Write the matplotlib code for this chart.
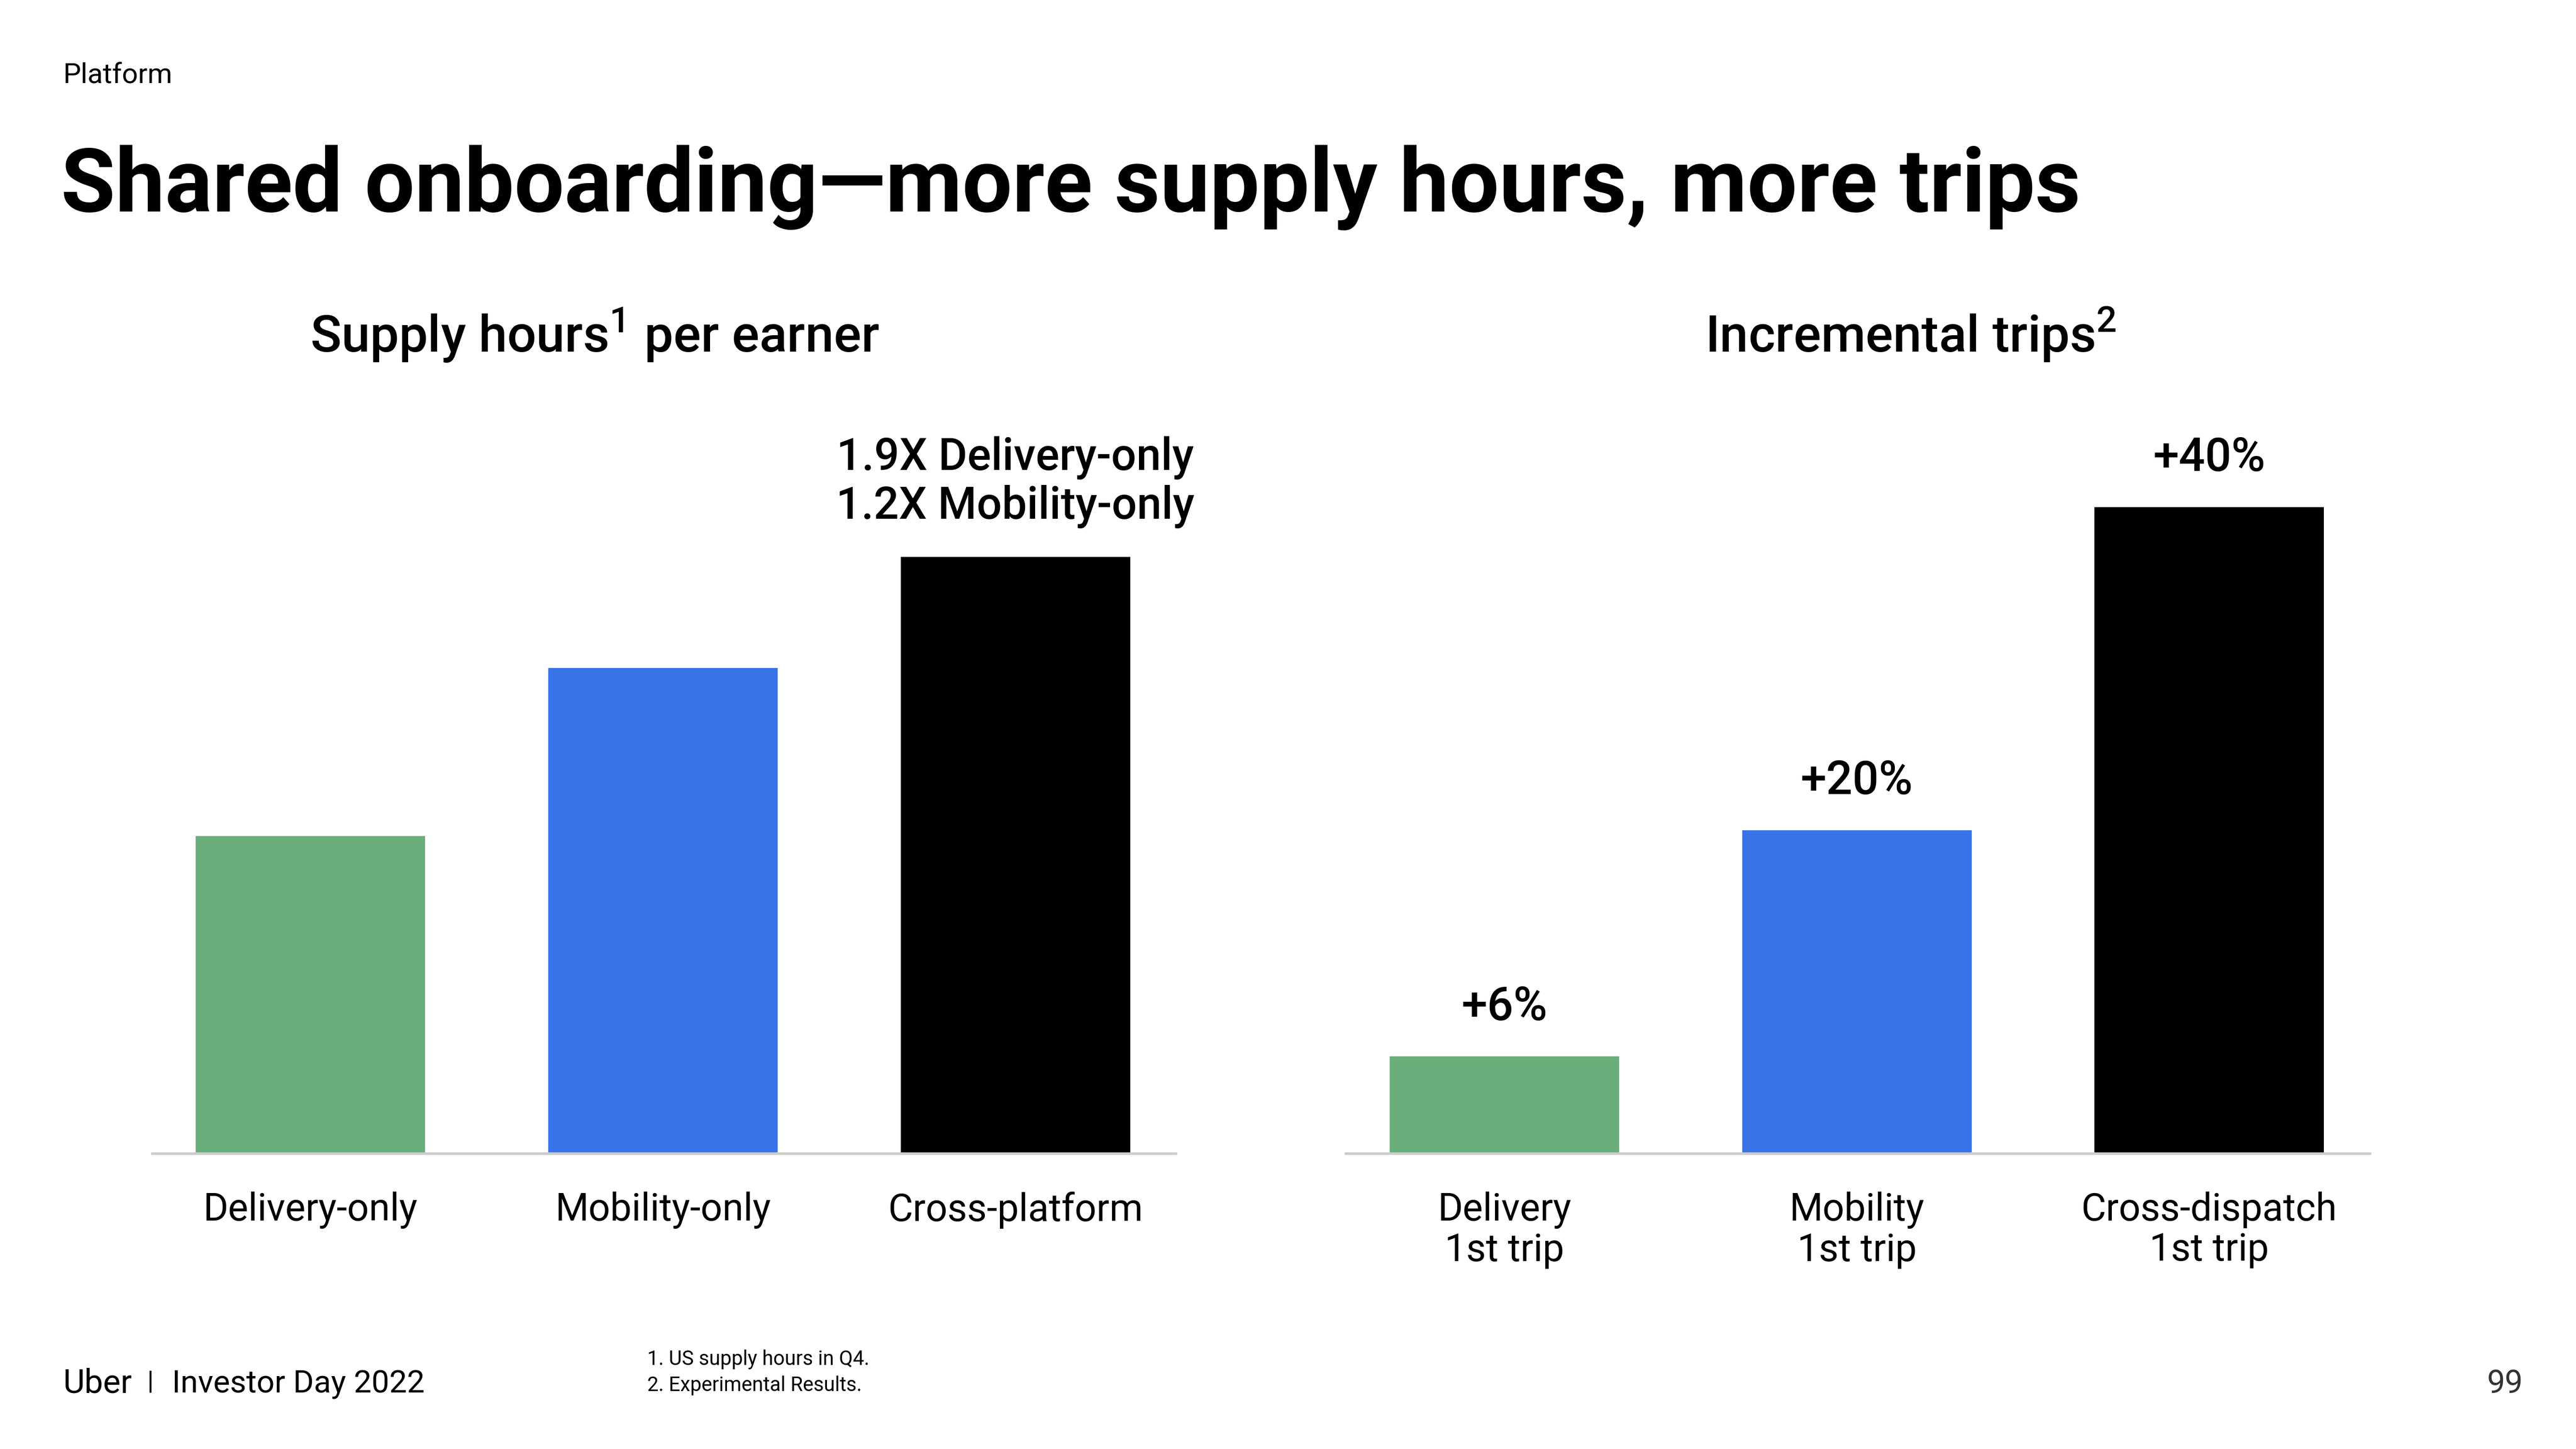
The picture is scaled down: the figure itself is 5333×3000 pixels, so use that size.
import numpy as np
import matplotlib
matplotlib.use("Agg")
import matplotlib.pyplot as plt

plt.rcParams['font.family'] = ['Roboto', 'DejaVu Sans']
plt.rcParams['mathtext.fontset'] = 'custom'
plt.rcParams['mathtext.rm'] = 'Roboto'

# Data
supply_cats = ["Delivery-only", "Mobility-only", "Cross-platform"]
supply_hours = [1.0, 1.53, 1.88]   # relative supply hours per earner
trip_cats = ["Delivery\n1st trip", "Mobility\n1st trip", "Cross-dispatch\n1st trip"]
trip_lift = [6, 20, 40]            # incremental trips, %
trip_labels = ["+6%", "+20%", "+40%"]
bar_colors = ["#6aaf7b", "#3873e8", "#000000"]

W, H = 1560, 877   # layout grid (reference pixels)
def fx(x): return x / W
def fy(y): return 1 - y / H

fig = plt.figure(figsize=(5333 / 300, 3000 / 300), dpi=300)
fig.patch.set_facecolor("white")

def bar_panel(left, values, cats, ymax):
    ax = fig.add_axes([fx(left), fy(698), fx(620), 448 / H])
    x = np.arange(len(values))
    bars = ax.bar(x, values, width=0.651, color=bar_colors)
    ax.set_xlim(-0.45, 2.455)
    ax.set_ylim(0, ymax)
    for s in ["top", "right", "left"]:
        ax.spines[s].set_visible(False)
    ax.spines["bottom"].set_color("#cccccc")
    ax.spines["bottom"].set_linewidth(1.3)
    ax.set_yticks([])
    ax.set_xticks(x)
    ax.set_xticklabels(cats, fontsize=19, linespacing=1.12)
    ax.tick_params(axis="x", length=0, pad=19)
    return ax, bars

# left panel: supply hours
ax1, b1 = bar_panel(92, supply_hours, supply_cats, 448 / 192)
ax1.annotate("1.9X Delivery-only\n1.2X Mobility-only", (2, supply_hours[2]),
             xytext=(0, 19), textcoords="offset points", ha="center", va="baseline",
             fontsize=22, fontweight="medium", linespacing=1.15)

# right panel: incremental trips
ax2, b2 = bar_panel(815, trip_lift, trip_cats, 448 / 9.775)
for i, v in enumerate(trip_lift):
    ax2.annotate(trip_labels[i], (i, v), xytext=(0, 18), textcoords="offset points",
                 ha="center", va="baseline", fontsize=23, fontweight="medium")

# slide texts
fig.text(fx(38), fy(50), "Platform", fontsize=14, va="baseline")
fig.text(fx(37), fy(128), "Shared onboarding\u2014more supply hours, more trips",
         fontsize=44, fontweight="bold", va="baseline")
fig.text(fx(360), fy(213), r"Supply hours$^{\mathregular{1}}$ per earner",
         fontsize=25.5, fontweight="medium", ha="center", va="baseline")
fig.text(fx(1157), fy(213), r"Incremental trips$^{\mathregular{2}}$",
         fontsize=25.5, fontweight="medium", ha="center", va="baseline")

fig.text(fx(38), fy(843), "Uber", fontsize=16.5, va="baseline")
fig.text(fx(91), fy(840.5), "|", fontsize=13, ha="center", va="baseline")
fig.text(fx(104), fy(843), "Investor Day 2022", fontsize=15.7, va="baseline")
fig.text(fx(392), fy(826), "1. US supply hours in Q4.", fontsize=10, va="baseline")
fig.text(fx(392), fy(842), "2. Experimental Results.", fontsize=10, va="baseline")
fig.text(fx(1528), fy(843), "99", fontsize=16, ha="right", va="baseline", color="#333333")

fig.savefig("out.png", dpi=300, facecolor="white")
